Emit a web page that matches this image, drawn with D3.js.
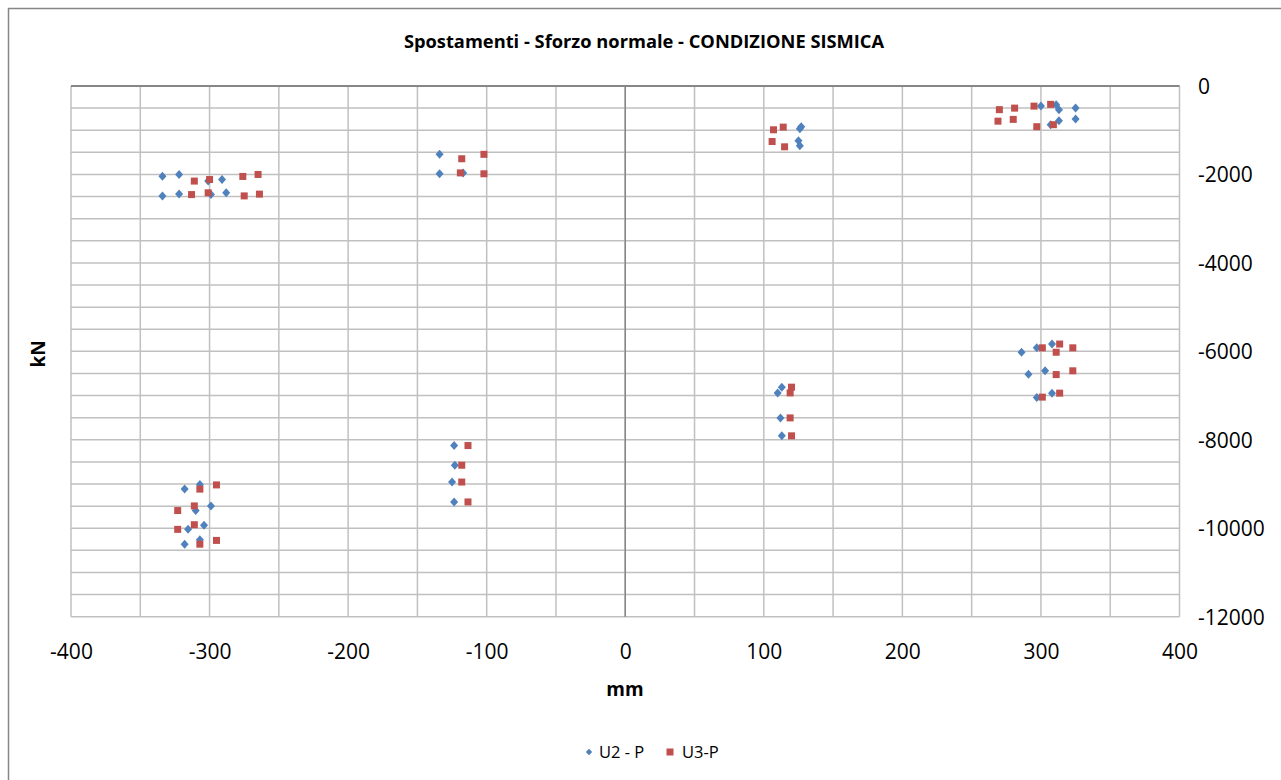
<!DOCTYPE html>
<html><head><meta charset="utf-8">
<script src="https://cdn.jsdelivr.net/npm/d3@7"></script>
<style>body{margin:0;background:#fff}svg{display:block}text{font-family:"Open Sans",sans-serif;fill:#000}</style>
</head><body>
<script>
const title = "Spostamenti - Sforzo normale - CONDIZIONE SISMICA";
const xLabel = "mm", yLabel = "kN";
const seriesNames = ["U2 - P", "U3-P"];
const xTicks = [-400,-300,-200,-100,0,100,200,300,400];
const yTicks = [0,-2000,-4000,-6000,-8000,-10000,-12000];
// U2 - P : [mm, kN]
const u2 = [
 [-334,-2040],[-322,-2000],[-301,-2150],[-291,-2115],[-334,-2490],[-322,-2440],[-299,-2455],[-288,-2415],
 [-134,-1545],[-134,-1985],[-117,-1965],
 [126,-965],[127,-920],[125,-1240],[126,-1350],
 [300,-455],[311,-425],[313,-535],[325,-500],[307,-875],[313,-785],[325,-745],
 [-318,-9115],[-307,-9010],[-310,-9600],[-299,-9495],[-315.5,-10020],[-304,-9930],[-318,-10360],[-307,-10260],
 [-123.5,-8130],[-123,-8575],[-125,-8955],[-123.5,-9405],
 [113,-6810],[110,-6940],[112,-7505],[113,-7910],
 [286,-6020],[297,-5920],[308,-5835],[291,-6520],[303,-6440],[297,-7045],[308,-6945]
];
// U3-P : [mm, kN]
const u3 = [
 [-311,-2150],[-300,-2115],[-276,-2045],[-265,-2000],[-313,-2455],[-301,-2415],[-275,-2485],[-264,-2445],
 [-118,-1645],[-102,-1545],[-119,-1965],[-102,-1985],
 [107,-990],[114,-930],[106,-1255],[115,-1375],
 [270,-535],[281,-500],[295,-455],[307,-415],[269,-795],[280,-755],[297,-920],[309,-875],
 [-307,-9115],[-295,-9020],[-323,-9600],[-311,-9495],[-323,-10025],[-311,-9920],[-307,-10360],[-295,-10275],
 [-113.5,-8130],[-118,-8575],[-118,-8955],[-113.5,-9405],
 [120,-6810],[119,-6940],[119,-7505],[120,-7910],
 [301,-5920],[313.5,-5835],[311,-6020],[323,-5920],[311,-6525],[323,-6440],[301,-7035],[313.5,-6945]
];

const W = 1281, H = 780;
const svg = d3.select("body").append("svg").attr("width", W).attr("height", H);
svg.append("rect").attr("x", 8.5).attr("y", 8.5).attr("width", W + 10).attr("height", H + 10)
  .attr("fill", "#fff").attr("stroke", "#868686").attr("stroke-width", 1.5);

const x = d3.scaleLinear().domain([-400, 400]).range([71, 1179.5]);
const y = d3.scaleLinear().domain([0, -12000]).range([86, 616.7]);
const fmt = d => String(d);

const g = svg.append("g");
// gridlines
const xg = d3.range(-400, 401, 50), yg = d3.range(0, -12001, -500);
g.selectAll(".vg").data(xg).join("line").attr("x1", d => x(d)).attr("x2", d => x(d))
  .attr("y1", y(0)).attr("y2", y(-12000)).attr("stroke", "#c0c0c0").attr("stroke-width", 1.5);
g.selectAll(".hg").data(yg).join("line").attr("y1", d => y(d)).attr("y2", d => y(d))
  .attr("x1", x(-400)).attr("x2", x(400)).attr("stroke", "#c0c0c0").attr("stroke-width", 1.5);
// axis lines
g.append("line").attr("x1", x(-400)).attr("x2", x(400)).attr("y1", y(0)).attr("y2", y(0))
  .attr("stroke", "#868686").attr("stroke-width", 2);
g.append("line").attr("x1", x(0)).attr("x2", x(0)).attr("y1", y(0)).attr("y2", y(-12000))
  .attr("stroke", "#868686").attr("stroke-width", 1.5);

// tick labels
const xAxis = d3.axisBottom(x).tickValues(xTicks).tickFormat(fmt).tickSize(0).tickPadding(0);
const xa = svg.append("g").attr("transform", `translate(0,${y(-12000) + 42})`).call(xAxis);
xa.select(".domain").remove();
xa.selectAll("text").attr("font-size", 21).attr("dy", 0).attr("font-family", "Open Sans");
const yAxis = d3.axisRight(y).tickValues(yTicks).tickFormat(fmt).tickSize(0).tickPadding(0);
const ya = svg.append("g").attr("transform", `translate(1198,0)`).call(yAxis);
ya.select(".domain").remove();
ya.selectAll("text").attr("font-size", 21).attr("dy", "0.35em").attr("font-family", "Open Sans");

// titles
svg.append("text").attr("x", 644).attr("y", 48).attr("text-anchor", "middle")
  .attr("font-size", 18.3).attr("font-weight", "bold").text(title);
svg.append("text").attr("x", 625).attr("y", 696).attr("text-anchor", "middle")
  .attr("font-size", 19).attr("font-weight", "bold").text(xLabel);
svg.append("text").attr("transform", "translate(45,354) rotate(-90)").attr("text-anchor", "middle")
  .attr("font-size", 19).attr("font-weight", "bold").text(yLabel);

// markers
const blue = "#4F81BD", red = "#C0504D";
const diamond = "M0,-4.5L4,0L0,4.5L-4,0Z";
svg.append("g").selectAll("path").data(u2).join("path")
  .attr("transform", d => `translate(${x(d[0])},${y(d[1])})`).attr("d", diamond).attr("fill", blue);
svg.append("g").selectAll("rect").data(u3).join("rect")
  .attr("x", d => x(d[0]) - 3.5).attr("y", d => y(d[1]) - 3.5).attr("width", 7).attr("height", 7)
  .attr("fill", red);

// legend
const lg = svg.append("g");
lg.append("path").attr("transform", "translate(589,752)").attr("d", "M0,-3.2L3.2,0L0,3.2L-3.2,0Z").attr("fill", blue);
lg.append("text").attr("x", 599).attr("y", 758).attr("font-size", 16.5).text(seriesNames[0]);
lg.append("rect").attr("x", 666.5).attr("y", 748.5).attr("width", 7).attr("height", 7).attr("fill", red);
lg.append("text").attr("x", 682).attr("y", 758).attr("font-size", 16.5).text(seriesNames[1]);
</script>
</body></html>
